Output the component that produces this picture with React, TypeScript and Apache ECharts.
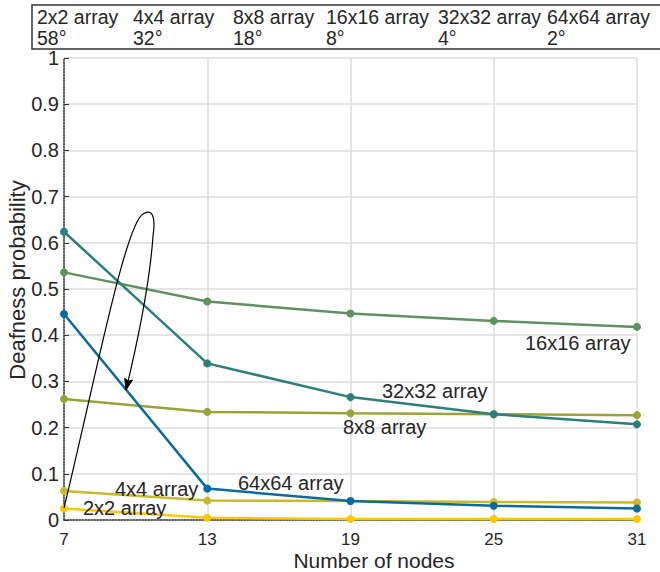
import React, { useEffect, useRef } from "react";
import * as echarts from "echarts";

const categories = ["7", "13", "19", "25", "31"];
const arr2 = [0.025, 0.005, 0.002, 0.002, 0.002];
const arr4 = [0.063, 0.042, 0.041, 0.039, 0.038];
const arr8 = [0.262, 0.234, 0.231, 0.229, 0.227];
const arr16 = [0.536, 0.473, 0.447, 0.431, 0.418];
const arr32 = [0.624, 0.339, 0.266, 0.229, 0.207];
const arr64 = [0.446, 0.068, 0.041, 0.031, 0.025];

const seriesNames = ["2x2 array", "4x4 array", "8x8 array", "16x16 array", "32x32 array", "64x64 array"];
const seriesData = [arr2, arr4, arr8, arr16, arr32, arr64];
const seriesColors = ["#fcc800", "#cbb92b", "#98a33a", "#5e9360", "#2e7f7b", "#0b6a9e"];

const headerAngles = ["58°", "32°", "18°", "8°", "4°", "2°"];
const headerX = [37, 133, 233, 326, 438, 547];

// inline label positions (left x, middle y) in pixels
const inlineLabels = [
  { text: "2x2 array", x: 83, y: 508 },
  { text: "4x4 array", x: 115, y: 489 },
  { text: "8x8 array", x: 343, y: 427 },
  { text: "16x16 array", x: 525, y: 343 },
  { text: "32x32 array", x: 382, y: 391 },
  { text: "64x64 array", x: 238, y: 483 },
];

const arrowPath =
  "M64,508 C95,380 125,225 143,214 C152,208 156,216 153,236 C150,280 138,340 126,390";

const FONT = "Liberation Sans, Arial, Helvetica, sans-serif";
const TXT = "#262626";

export default function App() {
  const ref = useRef<HTMLDivElement>(null);
  useEffect(() => {
    if (!ref.current) return;
    try {
      echarts.graphic.registerShape("arrowCurve", echarts.graphic.extendPath(arrowPath, {}));
    } catch (e) {}
    const chart = echarts.init(ref.current, undefined, { renderer: "svg" });

    const graphics: any[] = [];
    // header box
    graphics.push({
      type: "rect",
      shape: { x: 32, y: 5, width: 640, height: 44 },
      style: { fill: "#fff", stroke: "#333", lineWidth: 1.5 },
      z: 10,
    });
    seriesNames.forEach((n, i) => {
      graphics.push({
        type: "text",
        x: headerX[i],
        y: 17,
        style: { text: n, font: `19.5px ${FONT}`, fill: TXT, align: "left", verticalAlign: "middle" },
        z: 11,
      });
      graphics.push({
        type: "text",
        x: headerX[i],
        y: 37.5,
        style: { text: headerAngles[i], font: `19.5px ${FONT}`, fill: TXT, align: "left", verticalAlign: "middle" },
        z: 11,
      });
    });
    inlineLabels.forEach((l) => {
      graphics.push({
        type: "text",
        x: l.x,
        y: l.y,
        style: { text: l.text, font: `20px ${FONT}`, fill: TXT, align: "left", verticalAlign: "middle" },
        z: 11,
      });
    });
    // axis titles
    graphics.push({
      type: "text",
      x: 374,
      y: 560,
      style: { text: "Number of nodes", font: `21px ${FONT}`, fill: TXT, align: "center", verticalAlign: "middle" },
      z: 11,
    });
    graphics.push({
      type: "text",
      x: 17,
      y: 280,
      rotation: Math.PI / 2,
      style: { text: "Deafness probability", font: `22px ${FONT}`, fill: TXT, align: "center", verticalAlign: "middle" },
      z: 11,
    });
    // annotation arrow
    graphics.push({
      type: "arrowCurve",
      x: 0,
      y: 0,
      scaleX: 1,
      scaleY: 1,
      style: { fill: "none", stroke: "#000", lineWidth: 1.2 },
      z: 12,
    });
    graphics.push({
      type: "polygon",
      shape: { points: [[132.5, 380], [126, 390], [124.7, 378.4], [128.5, 381]] },
      style: { fill: "#000", stroke: "#000", lineWidth: 1 },
      z: 12,
    });

    chart.setOption({
      animation: false,
      backgroundColor: "#fff",
      grid: { left: 64, right: 23, top: 58, bottom: 52, containLabel: false },
      xAxis: {
        type: "category",
        data: categories,
        boundaryGap: false,
        axisLine: { show: true, lineStyle: { color: "#333", width: 1.5, type: "dotted" } },
        axisTick: { show: false },
        axisLabel: { color: TXT, fontSize: 17, fontFamily: FONT, margin: 11, lineHeight: 17 },
        splitLine: { show: true, lineStyle: { color: "#dcdcdc", width: 1.5 } },
      },
      yAxis: {
        type: "value",
        min: 0,
        max: 1,
        interval: 0.1,
        axisLine: { show: true, lineStyle: { color: "#333", width: 1.5, type: "dotted" } },
        axisTick: { show: true, inside: true, length: 5, lineStyle: { color: "#333", width: 1 } },
        axisLabel: { color: TXT, fontSize: 20, fontFamily: FONT, margin: 5 },
        splitLine: { show: true, lineStyle: { color: "#dcdcdc", width: 1.5 } },
      },
      series: seriesNames.map((n, i) => ({
        name: n,
        type: "line",
        data: seriesData[i],
        symbol: "circle",
        symbolSize: 8,
        showSymbol: true,
        lineStyle: { color: seriesColors[i], width: 2.5 },
        itemStyle: { color: seriesColors[i] },
        z: 3 + i,
      })),
      graphic: graphics,
    });
    return () => chart.dispose();
  }, []);
  return (
    <div
      ref={ref}
      style={{ position: "fixed", left: 0, top: 0, width: 660, height: 572, background: "#fff" }}
    />
  );
}
